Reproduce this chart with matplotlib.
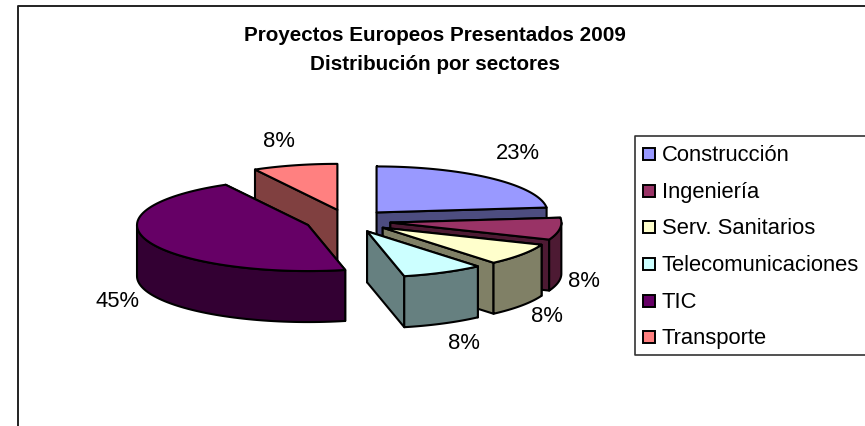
import matplotlib
matplotlib.use("Agg")
import matplotlib.pyplot as plt
from matplotlib.colors import to_rgb
from matplotlib.patches import Polygon, Rectangle
import numpy as np

categories = ["Construcción", "Ingeniería", "Serv. Sanitarios", "Telecomunicaciones", "TIC", "Transporte"]
values = [23.3, 7.74, 7.74, 7.73, 45.49, 8.0]
colors = ["#9999FF", "#993366", "#FFFFCC", "#CCFFFF", "#660066", "#FF8080"]
title_lines = ["Proyectos Europeos Presentados 2009", "Distribución por sectores"]

# where each % label sits, in pixels
label_pos = [(518, 154), (584, 282), (547, 317), (464, 344), (117, 302), (279, 142)]
legend_y = [155, 192, 228, 265, 302, 338]

# pie shape, in pixels
cx, cy = 348, 222
rx, ry = 171, 46
depth = 51
explode = 0.25

plt.rcParams['font.family'] = ['Liberation Sans', 'DejaVu Sans']

fig = plt.figure(figsize=(8.65, 4.27), dpi=100)
ax = fig.add_axes([0, 0, 1, 1])
ax.set_xlim(0, 865)
ax.set_ylim(427, 0)
ax.axis('off')

# chart frame, runs off the right and bottom of the picture
ax.plot([17.5, 17.5, 865], [427, 6.5, 6.5], color="#222222", lw=1.4, solid_capstyle='butt')

for i, line in enumerate(title_lines):
	ax.text(435, 35.5 + i * 29, line, ha='center', va='center', fontsize=14.9, fontweight='bold', color='black')


def point(a, ox, oy, down=0):
	t = np.radians(a)
	return ox + rx * np.sin(t), oy - ry * np.cos(t) + down


def face(pts, col, z):
	ax.add_patch(Polygon(pts, closed=True, facecolor=col, edgecolor='black', lw=1.5, joinstyle='round', zorder=z))


edges = np.concatenate([[0], np.cumsum(values)]) / sum(values) * 360
# back to front
order = [5, 0, 1, 2, 3, 4]
for n, i in enumerate(order):
	a0, a1 = edges[i], edges[i + 1]
	mid = np.radians((a0 + a1) / 2)
	ox = cx + explode * rx * np.sin(mid)
	oy = cy - explode * ry * np.cos(mid)
	top = to_rgb(colors[i])
	side = tuple(c / 2 for c in top)
	z = 2 + n

	# radial walls, the one further back first
	walls = sorted([a0, a1], key=lambda a: point(a, ox, oy)[1])
	for a in walls:
		p = point(a, ox, oy)
		face([(ox, oy), p, (p[0], p[1] + depth), (ox, oy + depth)], side, z)

	# outer rim, only the part that faces the viewer
	lo, hi = max(a0, 90), min(a1, 270)
	if hi > lo:
		arc = np.linspace(lo, hi, 60)
		upper = [point(a, ox, oy) for a in arc]
		lower = [point(a, ox, oy, depth) for a in arc[::-1]]
		face(upper + lower, side, z)

	arc = np.linspace(a0, a1, 80)
	face([(ox, oy)] + [point(a, ox, oy) for a in arc], top, z)

for v, (x, y) in zip(values, label_pos):
	ax.text(x, y, "%.0f%%" % v, ha='center', va='center', fontsize=15.8, color='black', zorder=20)

# legend box, right side is cut off by the picture
ax.plot([865, 634.5, 634.5, 865], [136.5, 136.5, 355.5, 355.5], color="#333333", lw=1.2, solid_capstyle='butt', zorder=20)
for name, col, y in zip(categories, colors, legend_y):
	ax.add_patch(Rectangle((642.5, y - 6.5), 12, 12, facecolor=col, edgecolor='black', lw=1.4, zorder=21))
	ax.text(662, y + 0.5, name, ha='left', va='center', fontsize=15.85, color='black', zorder=21)

fig.savefig("out.png", dpi=100, facecolor='white')
